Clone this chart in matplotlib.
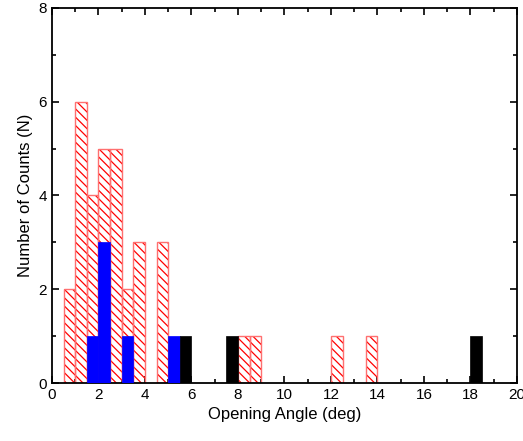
import matplotlib
matplotlib.use("Agg")
import matplotlib.pyplot as plt
from matplotlib.ticker import MultipleLocator

# left edges of 0.5-deg bins and counts
red_left = [0.5, 1.0, 1.5, 2.0, 2.5, 3.0, 3.5, 4.5, 8.0, 8.5, 12.0, 13.5]
red_count = [2, 6, 4, 5, 5, 2, 3, 3, 1, 1, 1, 1]
blue_left = [1.5, 2.0, 3.0, 5.0]
blue_count = [1, 3, 1, 1]
black_left = [5.5, 7.5, 18.0]
black_count = [1, 1, 1]
width = 0.5

plt.rcParams["font.family"] = ["Liberation Sans", "DejaVu Sans"]
plt.rcParams["hatch.linewidth"] = 0.9
plt.rcParams["hatch.color"] = "red"

fig = plt.figure(figsize=(5.23, 4.41), dpi=100)
ax = fig.add_axes([0.0994, 0.1315, 0.889, 0.8505])

ax.bar(red_left, red_count, width=width, align="edge", fill=False,
       hatch="\\\\\\\\", edgecolor="red", linewidth=0, zorder=2)
ax.bar(red_left, red_count, width=width, align="edge", fill=False,
       edgecolor="#ff7070", linewidth=1.0, zorder=2)
ax.bar(blue_left, blue_count, width=width, align="edge", color="blue",
       edgecolor="blue", linewidth=0.5, zorder=3)
ax.bar(black_left, black_count, width=width, align="edge", color="black",
       edgecolor="black", linewidth=0.5, zorder=3)

ax.set_xlim(0, 20)
ax.set_ylim(0, 8)
ax.xaxis.set_major_locator(MultipleLocator(2))
ax.xaxis.set_minor_locator(MultipleLocator(1))
ax.yaxis.set_major_locator(MultipleLocator(2))
ax.yaxis.set_minor_locator(MultipleLocator(1))
ax.tick_params(which="both", direction="in", top=True, right=True,
               labelsize=11, width=1.2)
ax.tick_params(which="major", length=5)
ax.tick_params(which="minor", length=3)
for s in ax.spines.values():
    s.set_linewidth(1.3)

ax.set_xlabel("Opening Angle (deg)", fontsize=12)
ax.set_ylabel("Number of Counts (N)", fontsize=12)

fig.savefig("out.png", dpi=100)
